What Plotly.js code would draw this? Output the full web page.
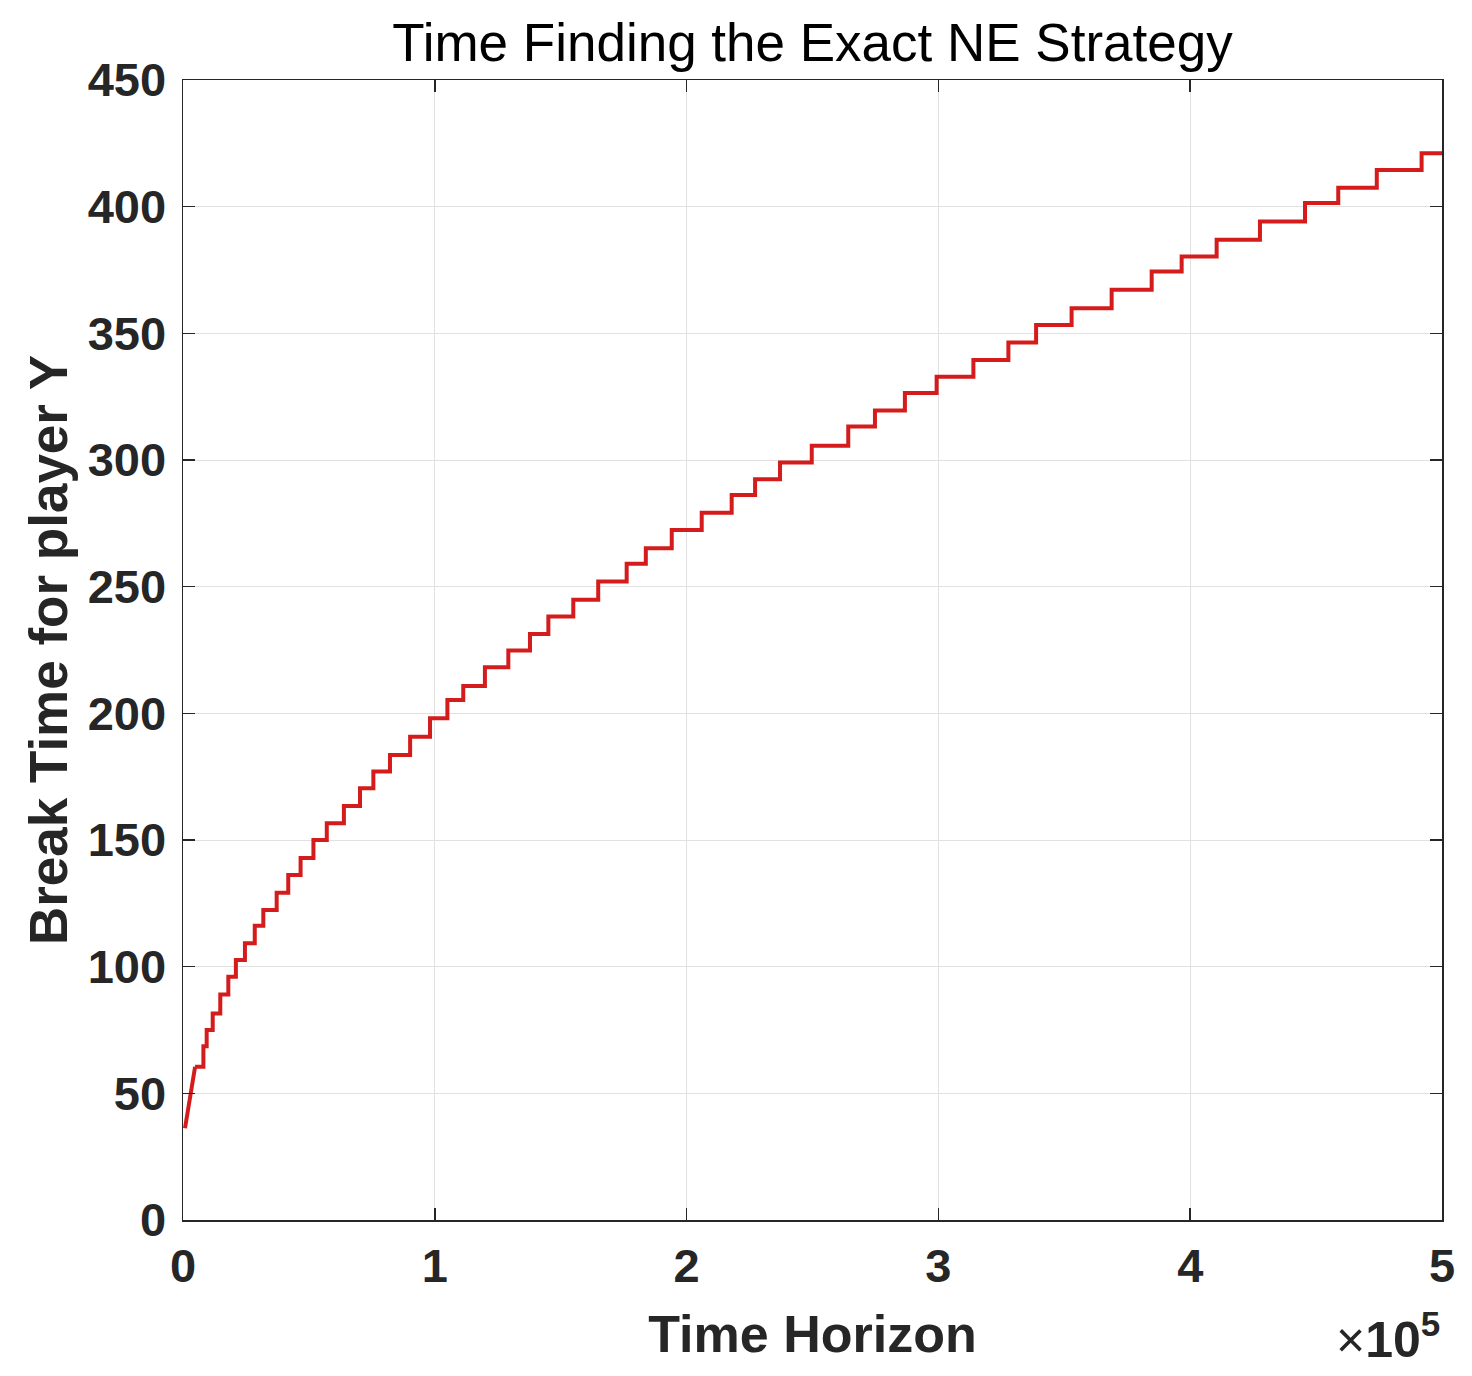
<!DOCTYPE html>
<html>
<head>
<meta charset="utf-8">
<script src="https://cdn.plot.ly/plotly-3.0.1.min.js"></script>
<style>
  html, body { margin: 0; padding: 0; background: #fff; }
  #chart { width: 1472px; height: 1376px; }
</style>
</head>
<body>
<div id="chart"></div>
<script>
// values
// opening ramp (straight segment before the steps begin)
const rampHorizon = [800, 4800];
const rampBreakTime = [36.2, 60.5];

// staircase: each point = start of a step
const horizon = [4800, 8100, 9400, 11800, 14800, 18000, 21000, 24600, 28500,
  31900, 37200, 41800, 46700, 51800, 57100, 63900, 70300, 75600, 82200, 90200, 98100,
  105000, 111300, 119900, 129200, 137800, 145100, 155000, 164900, 176200, 183800, 194100,
  206000, 217900, 227200, 237100, 249700, 264200, 274800, 286700, 299300, 313900, 327800,
  338800, 352900, 368800, 384700, 396600, 410500, 427700, 445600, 458800, 474100, 491900, 500000];
const breakTime = [60.5, 68.6, 75.0, 81.5, 89.0, 96.0, 102.6, 109.2, 116.2,
  122.4, 129.2, 136.2, 142.9, 150.0, 156.6, 163.4, 170.4, 177.0, 183.6, 190.8, 198.1,
  205.3, 210.8, 218.2, 224.8, 231.3, 238.2, 244.8, 252.0, 259.0, 265.2, 272.4,
  279.2, 286.2, 292.4, 299.0, 305.6, 313.2, 319.5, 326.4, 332.9, 339.5, 346.4,
  353.3, 359.9, 367.2, 374.4, 380.3, 386.9, 394.1, 401.4, 407.5, 414.5, 421.1, 421.4];

const xTickVals = [0, 100000, 200000, 300000, 400000, 500000];
const xTickText = ['0', '1', '2', '3', '4', '5'];
const yTickVals = [0, 50, 100, 150, 200, 250, 300, 350, 400, 450];

const FONT = '"Liberation Sans", Arial, Helvetica, sans-serif';
const INK = '#262626';
const RED = '#d41c1c';

const data = [
  {
    type: 'scatter',
    mode: 'lines',
    x: rampHorizon,
    y: rampBreakTime,
    line: { color: RED, width: 4 },
    hoverinfo: 'x+y',
  },
  {
    type: 'scatter',
    mode: 'lines',
    x: horizon,
    y: breakTime,
    line: { color: RED, width: 4, shape: 'hv' },
    hoverinfo: 'x+y',
  },
];

const axisCommon = {
  showline: true,
  linecolor: INK,
  linewidth: 1.5,
  mirror: 'ticks',
  ticks: 'inside',
  ticklen: 12,
  tickwidth: 1.5,
  tickcolor: INK,
  showgrid: true,
  gridcolor: '#e1e1e1',
  gridwidth: 1,
  zeroline: false,
  tickfont: { family: FONT, size: 47, color: INK, weight: 'bold' },
};

const layout = {
  width: 1472,
  height: 1376,
  paper_bgcolor: '#ffffff',
  plot_bgcolor: '#ffffff',
  margin: { l: 183, r: 30, t: 80, b: 156 },
  showlegend: false,
  title: {
    text: 'Time Finding the Exact NE Strategy',
    font: { family: FONT, size: 53, color: '#000000' },
    x: 0.5, xref: 'paper', xanchor: 'center',
    y: 1 - 42 / 1376, yref: 'container', yanchor: 'middle',
  },
  xaxis: Object.assign({}, axisCommon, {
    range: [0, 500000],
    tickmode: 'array',
    tickvals: xTickVals,
    ticktext: xTickText,
    ticklabelstandoff: 4,
    title: {
      text: 'Time Horizon',
      font: { family: FONT, size: 52, color: INK, weight: 'bold' },
      standoff: 24,
    },
  }),
  yaxis: Object.assign({}, axisCommon, {
    range: [0, 450],
    tickmode: 'array',
    tickvals: yTickVals,
    ticklabelstandoff: 6,
    title: {
      text: 'Break Time for player Y',
      font: { family: FONT, size: 53, color: INK, weight: 'bold' },
      standoff: 3,
    },
  }),
  annotations: [{
    xref: 'paper', yref: 'paper',
    x: 1.0, y: -0.132,
    xanchor: 'right', yanchor: 'bottom',
    showarrow: false,
    text: '×<b>10<sup>5</sup></b>',
    font: { family: FONT, size: 50, color: INK },
  }],
};

Plotly.newPlot('chart', data, layout, { displayModeBar: false, staticPlot: true });
</script>
</body>
</html>
